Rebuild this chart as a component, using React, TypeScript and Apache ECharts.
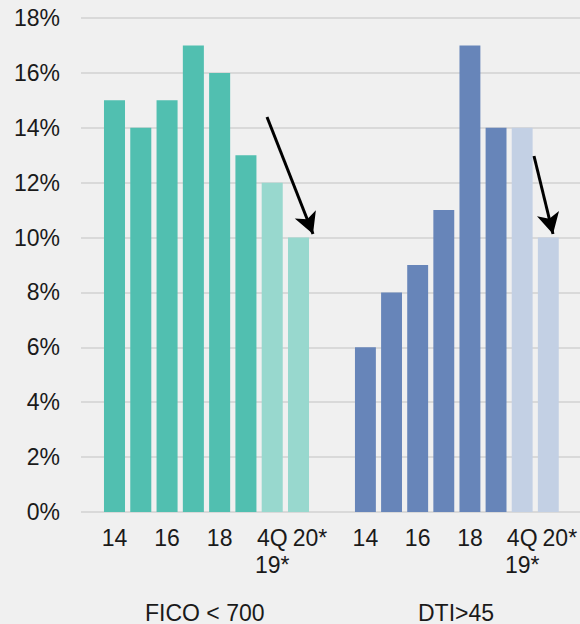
import React, { useEffect, useRef } from "react";
import * as echarts from "echarts";

// Periods shown in each panel
const periods = ["14", "15", "16", "17", "18", "19", "4Q\n19*", "20*"];
// Only these periods get a tick label
const labelledPeriods = ["14", "16", "18", "4Q\n19*", "20*"];
// Share of originations, %
const ficoUnder700 = [15, 14, 15, 17, 16, 13, 12, 10];
const dtiOver45 = [6, 8, 9, 11, 17, 14, 14, 10];
// Periods drawn in the lighter shade (recent / projected)
const lightPeriods = ["4Q\n19*", "20*"];
const panelTitles = ["FICO < 700", "DTI>45"];
const yTicks = { min: 0, max: 18, interval: 2 };

const FONT = "Liberation Sans, Arial, sans-serif";
const TEXT = "#1a1a1a";
const GRID_LINE = "#d9d9d9";

const TOP = 18;
const BOTTOM = 112;

export default function App() {
  const ref = useRef<HTMLDivElement>(null);

  useEffect(() => {
    if (!ref.current) return;
    document.body.style.margin = "0";
    const chart = echarts.init(ref.current, null, { renderer: "svg" });

    const coloured = (vals: number[], dark: string, light: string) =>
      vals.map((v, i) => ({
        value: v,
        itemStyle: { color: lightPeriods.includes(periods[i]) ? light : dark },
      }));

    const catAxis = (gridIndex: number) => ({
      type: "category",
      gridIndex,
      data: periods,
      axisLine: { show: false },
      axisTick: { show: false },
      axisLabel: {
        interval: 0,
        hideOverlap: false,
        margin: 12,
        color: TEXT,
        fontFamily: FONT,
        fontSize: 23,
        lineHeight: 27,
        formatter: (v: string) => {
          if (!labelledPeriods.includes(v)) return "";
          return v === "20*" ? "{shift|" + v + "}" : v;
        },
        rich: {
          shift: {
            padding: [0, 0, 0, 23],
            color: TEXT,
            fontFamily: FONT,
            fontSize: 23,
            lineHeight: 27,
          },
        },
      },
    });

    const hiddenY = (gridIndex: number) => ({
      type: "value",
      gridIndex,
      ...yTicks,
      show: false,
    });

    const panelLeft = [101.35, 352.35];
    const panelWidth = 210.3;

    const arrow = (from: number[], to: number[]) => ({
      silent: true,
      symbol: ["none", "arrow"],
      symbolSize: [17, 21],
      label: { show: false },
      lineStyle: { color: "#000", width: 3, type: "solid" },
      data: [[{ x: from[0], y: from[1] }, { x: to[0], y: to[1] }]],
    });

    chart.setOption({
      animation: false,
      backgroundColor: "#f0f0f0",
      grid: [
        { left: 81, right: 0, top: TOP, bottom: BOTTOM },
        { left: panelLeft[0], width: panelWidth, top: TOP, bottom: BOTTOM },
        { left: panelLeft[1], width: panelWidth, top: TOP, bottom: BOTTOM },
      ],
      xAxis: [
        { type: "category", gridIndex: 0, data: [""], show: false },
        catAxis(1),
        catAxis(2),
      ],
      yAxis: [
        {
          type: "value",
          gridIndex: 0,
          ...yTicks,
          axisLine: { show: false },
          axisTick: { show: false },
          axisLabel: {
            formatter: "{value}%",
            margin: 21,
            color: TEXT,
            fontFamily: FONT,
            fontSize: 23,
          },
          splitLine: { lineStyle: { color: GRID_LINE, width: 2 } },
        },
        hiddenY(1),
        hiddenY(2),
      ],
      series: [
        {
          type: "bar",
          name: panelTitles[0],
          xAxisIndex: 1,
          yAxisIndex: 1,
          barWidth: "80%",
          data: coloured(ficoUnder700, "#51bfb0", "#98d8ce"),
          markLine: arrow([267, 117], [313, 234]),
        },
        {
          type: "bar",
          name: panelTitles[1],
          xAxisIndex: 2,
          yAxisIndex: 2,
          barWidth: "80%",
          data: coloured(dtiOver45, "#6785b9", "#c3d0e4"),
          markLine: arrow([534, 156], [553, 234]),
        },
      ],
      graphic: panelTitles.map((t, i) => ({
        type: "text",
        left: i === 0 ? 145 : 418,
        top: 601,
        style: { text: t, fill: TEXT, font: `23px ${FONT}` },
      })),
    });

    return () => chart.dispose();
  }, []);

  return <div ref={ref} style={{ width: 580, height: 624 }} />;
}
